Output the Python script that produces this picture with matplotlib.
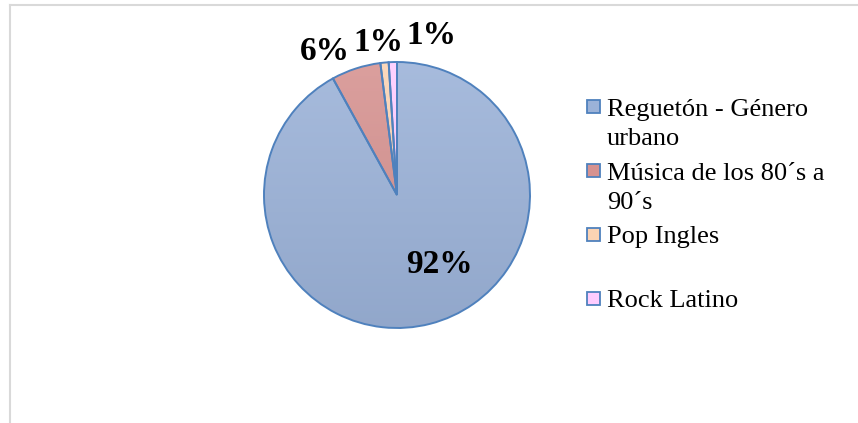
import numpy as np
import matplotlib
matplotlib.use("Agg")
import matplotlib.pyplot as plt
from matplotlib.colors import to_rgb
from matplotlib.patches import Rectangle, Wedge
from matplotlib.lines import Line2D

# Data
categories = ["Reguetón - Género\nurbano", "Música de los 80´s a\n90´s", "Pop Ingles", "Rock Latino"]
values = [92, 6, 1, 1]
colors = ["#9bb2d8", "#d69290", "#fbd3b3", "#ffccff"]

# Label placement (data units around a unit pie)
label_xy = [(0.32, -0.525), (-0.54, 1.08), (-0.14, 1.15), (0.26, 1.20)]

W, H = 858, 423
fig = plt.figure(figsize=(W / 100, H / 100), dpi=100)
plt.rcParams["font.family"] = ["Liberation Serif", "DejaVu Serif"]

cx, cy, r = 397, 195, 133
lim = 1.03
ax = fig.add_axes([(cx - r * lim) / W, (H - cy - r * lim) / H, 2 * r * lim / W, 2 * r * lim / H])

wedges, _ = ax.pie(values, colors=colors, startangle=90, counterclock=False,
                   radius=1, wedgeprops=dict(edgecolor="#4f81bd", linewidth=1.4))
ax.set_aspect("equal")
ax.axis("off")


def shade(c, f):
    c = np.array(to_rgb(c))
    if f >= 0:
        return c + (1 - c) * f
    return c * (1 + f)


# Soft vertical gradient inside each slice
for w, c in zip(wedges, colors):
    top, bot = shade(c, 0.12), shade(c, -0.06)
    t = np.linspace(0, 1, 256)[:, None]
    img = top[None, None, :] * (1 - t[..., None]) + bot[None, None, :] * t[..., None]
    img = np.repeat(img, 4, axis=1)
    im = ax.imshow(img, extent=[-1, 1, -1, 1], origin="upper", aspect="auto",
                   zorder=w.get_zorder() + 0.1, interpolation="bilinear")
    im.set_clip_path(w)

# Redraw outlines on top of the gradients
for w in wedges:
    e = Wedge(w.center, w.r, w.theta1, w.theta2, facecolor="none",
              edgecolor="#4f81bd", linewidth=1.4, zorder=5)
    ax.add_patch(e)
    w.set_edgecolor("none")

ax.set_xlim(-lim, lim)
ax.set_ylim(-lim, lim)

for (x, y), v in zip(label_xy, values):
    ax.text(x, y, f"{v}%", ha="center", va="center", fontsize=24,
            fontweight="bold", color="black", clip_on=False, zorder=6)

# Legend
lx, ly0 = 587, 107
step = 63.7
line_h = 29
for i, (lab, c) in enumerate(zip(categories, colors)):
    yc = ly0 + i * step
    sq = 13
    fig.add_artist(Rectangle((lx / W, (H - yc - sq / 2) / H), sq / W, sq / H,
                             transform=fig.transFigure, facecolor=c,
                             edgecolor="#4f81bd", linewidth=1.3))
    for j, part in enumerate(lab.split("\n")):
        fig.text(607 / W, (H - (yc + 9) - j * line_h) / H, part, fontsize=19,
                 ha="left", va="baseline", color="black")

# Chart frame (top and left edges)
fig.add_artist(Line2D([9.5 / W, 1], [1 - 5.5 / H, 1 - 5.5 / H], color="#d9d9d9",
                      linewidth=1.5, transform=fig.transFigure))
fig.add_artist(Line2D([10 / W, 10 / W], [0, 1 - 5.5 / H], color="#d9d9d9",
                      linewidth=1.5, transform=fig.transFigure))

fig.savefig("out.png", dpi=100)
